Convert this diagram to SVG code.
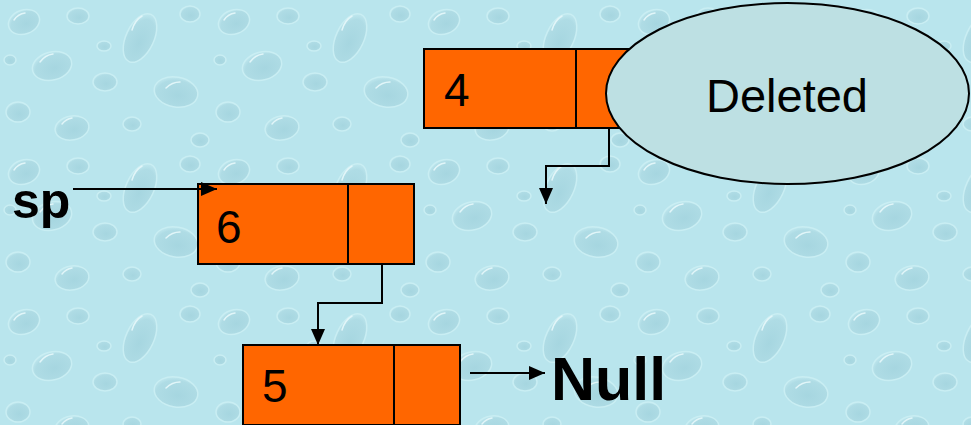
<svg xmlns="http://www.w3.org/2000/svg" width="971" height="425" viewBox="0 0 971 425">
  <defs>
    <radialGradient id="drop" cx="0.55" cy="0.6" r="0.65">
      <stop offset="0" stop-color="#a6d6e0"/>
      <stop offset="0.75" stop-color="#afdce5"/>
      <stop offset="1" stop-color="#c6ecf2"/>
    </radialGradient>
    <pattern id="water" x="0" y="0" width="210" height="150" patternUnits="userSpaceOnUse">
      <rect width="210" height="150" fill="#b9e5ed"/>
      <g fill="url(#drop)" stroke="#c9eef3" stroke-width="1.5">
        <ellipse cx="24" cy="22" rx="16" ry="12" transform="rotate(-20 24 22)"/>
        <ellipse cx="78" cy="16" rx="11" ry="8"/>
        <ellipse cx="140" cy="38" rx="14" ry="26" transform="rotate(25 140 38)"/>
        <ellipse cx="190" cy="14" rx="10" ry="8"/>
        <ellipse cx="52" cy="66" rx="20" ry="14" transform="rotate(-15 52 66)"/>
        <ellipse cx="105" cy="82" rx="12" ry="9"/>
        <ellipse cx="176" cy="92" rx="22" ry="15" transform="rotate(10 176 92)"/>
        <ellipse cx="18" cy="112" rx="12" ry="10"/>
        <ellipse cx="72" cy="128" rx="17" ry="12" transform="rotate(-10 72 128)"/>
        <ellipse cx="132" cy="124" rx="9" ry="7"/>
        <ellipse cx="200" cy="140" rx="9" ry="7"/>
        <ellipse cx="104" cy="46" rx="7" ry="5"/>
        <ellipse cx="10" cy="60" rx="6" ry="5"/>
      </g>
      <g fill="none" stroke="#e2f6f9" stroke-width="1.5" stroke-linecap="round">
        <path d="M14 20 q4 -6 11 -7"/>
        <path d="M132 30 q3 -10 10 -14"/>
        <path d="M40 62 q5 -7 13 -8"/>
        <path d="M166 88 q6 -6 14 -6"/>
        <path d="M62 124 q4 -5 10 -6"/>
      </g>
    </pattern>
    <marker id="arrow" viewBox="0 0 16 14" refX="16" refY="7" markerWidth="16" markerHeight="14" markerUnits="userSpaceOnUse" orient="auto">
      <path d="M0 0 L16 7 L0 14 Z" fill="#000"/>
    </marker>
    <style>
      .cell { fill: #ff6600; stroke: #000; stroke-width: 2; }
      .val { font-family: "Liberation Sans", Arial, sans-serif; font-size: 46px; fill: #000; }
      .label { font-family: "Liberation Sans", Arial, sans-serif; font-weight: bold; fill: #000; }
      .link { fill: none; stroke: #000; stroke-width: 2; marker-end: url(#arrow); }
    </style>
  </defs>

  <!-- water-drop background -->
  <rect width="971" height="425" fill="url(#water)"/>

  <!-- list node holding 4 (being removed) -->
  <g id="node4">
    <rect class="cell" x="424" y="49" width="152" height="79"/>
    <rect class="cell" x="576" y="49" width="64" height="79"/>
    <text class="val" x="444" y="106">4</text>
  </g>

  <!-- callout marking the removed node -->
  <g id="deleted">
    <ellipse cx="787.5" cy="93.5" rx="181.5" ry="90.5" fill="#bde0e3" stroke="#000" stroke-width="2"/>
    <text x="787" y="112" text-anchor="middle" font-family="Liberation Sans, Arial, sans-serif" font-size="47" fill="#000">Deleted</text>
  </g>

  <!-- head pointer label -->
  <g id="sp">
    <text class="label" x="12" y="218" font-size="50">sp</text>
  </g>

  <!-- list node holding 6 -->
  <g id="node6">
    <rect class="cell" x="198" y="184" width="150" height="80"/>
    <rect class="cell" x="348" y="184" width="66" height="80"/>
    <text class="val" x="216" y="243">6</text>
  </g>

  <!-- list node holding 5 -->
  <g id="node5">
    <rect class="cell" x="243" y="345" width="151" height="80"/>
    <rect class="cell" x="394" y="345" width="66" height="80"/>
    <text class="val" x="262" y="402">5</text>
  </g>

  <!-- terminator label -->
  <g id="null">
    <text class="label" x="551" y="400" font-size="61">Null</text>
  </g>

  <!-- pointer links -->
  <g id="connectors">
    <path class="link" d="M73 189 H217"/>
    <path class="link" d="M382 264 V303 H318 V345"/>
    <path class="link" d="M609 128 V166 H546 V204"/>
    <path class="link" d="M470 373 H545"/>
  </g>
</svg>
